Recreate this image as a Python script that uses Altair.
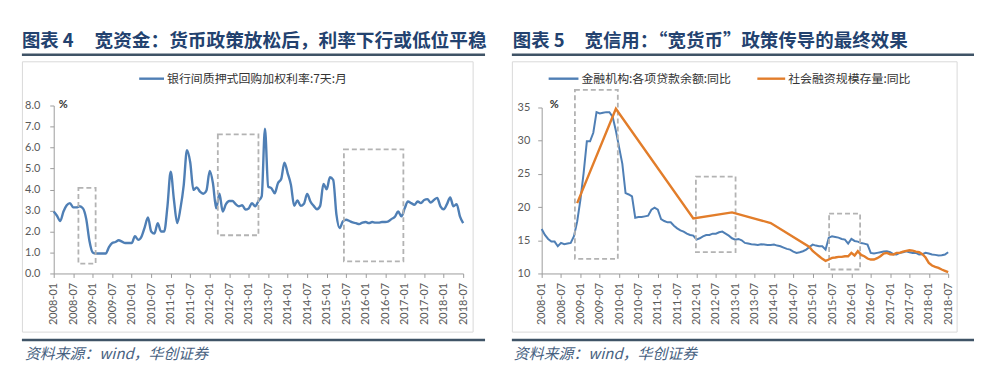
import altair as alt
import pandas as pd

# ---------------- data ----------------
months = list(range(127))  # 0 = 2008-01 ... 126 = 2018-07

repo_rate = [
    2.95, 2.75, 2.5, 2.95, 3.25, 3.35, 3.15, 3.15, 3.2, 3.1, 2.6, 1.55,
    1.0, 0.95, 0.95, 0.95, 0.95, 1.25, 1.45, 1.5, 1.58, 1.52, 1.45, 1.45,
    1.45, 1.78, 1.6, 1.75, 2.2, 2.67, 2.0, 1.9, 2.4, 2.0, 2.0, 3.2,
    4.85, 3.5, 2.4, 3.1, 4.2, 5.87, 5.3, 3.98, 4.1, 3.9, 3.8, 3.95,
    4.88, 4.3, 3.1, 3.8, 2.95, 3.3, 3.45, 3.45, 3.3, 3.2, 3.25, 3.05,
    3.1, 3.35, 3.2, 3.45, 3.67, 6.9, 4.14, 4.06, 3.82, 4.3, 4.5, 5.28,
    4.77, 4.22, 3.22, 3.48, 3.22, 3.32, 3.79, 3.43, 3.22, 3.06, 3.22, 4.27,
    4.01, 4.58, 4.46, 2.8, 2.16, 2.48, 2.56, 2.5, 2.43, 2.4, 2.35, 2.42,
    2.45, 2.4, 2.45, 2.42, 2.42, 2.45, 2.45, 2.48, 2.6, 2.7, 2.95, 2.72,
    3.1, 3.43, 3.35, 3.27, 3.43, 3.35, 3.5, 3.54, 3.38, 3.5, 3.6, 3.2,
    3.06, 3.3, 3.62, 3.2, 3.3, 2.72, 2.4,
]

loan_yoy = [
    16.7, 15.8, 15.2, 14.8, 14.8, 14.1, 14.6, 14.4, 14.5, 14.6, 15.6, 17.8,
    21.1, 25.1, 29.9, 29.9, 31.2, 34.3, 34.1, 34.2, 34.3, 34.3, 33.6, 31.5,
    29.0, 26.5, 22.1, 21.9, 21.6, 18.4, 18.5, 18.5, 18.6, 18.7, 19.6, 19.9,
    19.6, 18.2, 17.9, 17.7, 17.7, 17.2, 16.8, 16.5, 16.3, 16.0, 15.8, 15.7,
    15.1, 15.3, 15.6, 15.8, 15.8, 16.0, 16.0, 16.2, 16.3, 16.0, 15.7, 15.3,
    15.1, 15.2, 15.0, 14.6, 14.5, 14.4, 14.35, 14.3, 14.4, 14.35, 14.3, 14.3,
    14.35, 14.2, 14.1, 13.9, 13.7, 13.6, 13.3, 13.1, 13.2, 13.35, 13.6, 14.0,
    14.35, 14.2, 14.1, 14.1, 13.6, 15.4, 15.6, 15.5, 15.4, 15.2, 15.1, 14.5,
    15.2, 14.9, 14.8, 14.6, 14.5, 14.35, 13.1, 13.0, 13.1, 13.2, 13.3, 13.35,
    13.2, 12.9, 12.85, 13.1, 13.2, 13.35, 13.2, 13.1, 13.1, 12.85, 12.9, 13.1,
    13.0, 12.85, 12.8, 12.7, 12.75, 12.85, 13.2,
]

tsf_months = [11, 23, 47, 59, 71, 83] + list(range(84, 127))
tsf_yoy = [
    20.6, 34.8, 18.3, 19.2, 17.6, 14.0,
    13.4, 13.0, 12.6, 12.2, 11.9, 12.1, 12.35, 12.4, 12.5, 12.5, 12.6, 12.6,
    13.1, 12.7, 13.35, 12.8, 12.6, 12.25, 12.1, 12.1, 12.3, 12.6, 13.0, 13.1,
    12.9, 12.85, 13.1, 13.1, 13.3, 13.4, 13.5, 13.45, 13.3, 13.2, 12.9, 12.4,
    11.6, 11.2, 11.0, 10.85, 10.6, 10.4, 10.2,
]

# dashed highlight boxes (month index / value units)
lbox_x0 = [7.6, 50.5, 89.3]
lbox_x1 = [12.9, 63.0, 107.6]
lbox_y0 = [0.47, 1.82, 0.58]
lbox_y1 = [4.08, 6.63, 5.91]

rbox_x0 = [10.3, 47.8, 89.1]
rbox_x1 = [23.6, 60.1, 98.7]
rbox_y0 = [12.2, 13.2, 10.6]
rbox_y1 = [37.65, 24.6, 19.0]

left_title_no = "图表 4"
left_title = "宽资金：货币政策放松后，利率下行或低位平稳"
right_title_no = "图表 5"
right_title = "宽信用：“宽货币”政策传导的最终效果"
left_legend = "银行间质押式回购加权利率:7天:月"
loan_legend = "金融机构:各项贷款余额:同比"
tsf_legend = "社会融资规模存量:同比"
source = "资料来源：wind，华创证券"

# ---------------- layout helpers ----------------
M = 8  # page margin


def px(v):
    return v - M


df_left = pd.DataFrame({"m": months, "rate": repo_rate})
df_loan = pd.DataFrame({"m": months, "yoy": loan_yoy})
df_tsf = pd.DataFrame({"m": tsf_months, "yoy": tsf_yoy})
df_lbox = pd.DataFrame({"x0": lbox_x0, "x1": lbox_x1, "y0": lbox_y0, "y1": lbox_y1})
df_rbox = pd.DataFrame({"x0": rbox_x0, "x1": rbox_x1, "y0": rbox_y0, "y1": rbox_y1})
one = pd.DataFrame({"k": [0]})

BLUE = "#4f7fb5"
ORANGE = "#e27d2a"
BOX = "#b3b3b3"
TITLE_C = "#23426f"
LINE_C = "#3f5366"
CJK = "Noto Sans CJK SC"

label_expr = "toString(2008 + floor(datum.value / 12)) + (datum.value % 12 == 0 ? '-01' : '-07')"
axis_common = dict(grid=False, domainColor="#9c9c9c", tickColor="#9c9c9c", tickSize=4,
                   labelColor="#595959", labelFont="Lato", labelFontSize=11, title=None)


def x_axis():
    return alt.Axis(values=list(range(0, 127, 6)), labelExpr=label_expr, labelAngle=-90,
                    labelPadding=5, orient="bottom", labelOverlap=False, **axis_common)


def xL():
    return alt.Scale(domain=[0, 126], range=[px(54), px(466)], nice=False, zero=False)


def yL():
    return alt.Scale(domain=[0, 8], range=[px(274), px(105)], nice=False, zero=False)


def xR():
    return alt.Scale(domain=[0, 126], range=[px(545), px(954)], nice=False, zero=False)


def yR():
    return alt.Scale(domain=[10, 35], range=[px(274), px(107)], nice=False, zero=False)


# ---------------- left panel ----------------
left_line = alt.Chart(df_left).mark_line(color=BLUE, strokeWidth=2.4, interpolate="monotone").encode(
    x=alt.X("m:Q", scale=xL(), axis=x_axis()),
    y=alt.Y("rate:Q", scale=yL(),
            axis=alt.Axis(orient="left", offset=-px(54), values=list(range(0, 9)), format=".1f",
                          labelPadding=10, **axis_common)),
)
left_box = alt.Chart(df_lbox).mark_rect(fill="white", fillOpacity=0, stroke=BOX, strokeWidth=1.8,
                                        strokeDash=[5, 3]).encode(
    x=alt.X("x0:Q", scale=xL(), axis=None), x2="x1",
    y=alt.Y("y0:Q", scale=yL(), axis=None), y2="y1",
)

# ---------------- right panel ----------------
loan_line = alt.Chart(df_loan).mark_line(color=BLUE, strokeWidth=2).encode(
    x=alt.X("m:Q", scale=xR(), axis=x_axis()),
    y=alt.Y("yoy:Q", scale=yR(),
            axis=alt.Axis(orient="left", offset=-px(545), values=list(range(10, 36, 5)), format="d",
                          labelPadding=8, **axis_common)),
)
tsf_line = alt.Chart(df_tsf).mark_line(color=ORANGE, strokeWidth=2.4).encode(
    x=alt.X("m:Q", scale=xR(), axis=None),
    y=alt.Y("yoy:Q", scale=yR(), axis=None),
)
right_box = alt.Chart(df_rbox).mark_rect(fill="white", fillOpacity=0, stroke=BOX, strokeWidth=1.8,
                                         strokeDash=[5, 3]).encode(
    x=alt.X("x0:Q", scale=xR(), axis=None), x2="x1",
    y=alt.Y("y0:Q", scale=yR(), axis=None), y2="y1",
)


# ---------------- decorations ----------------
def frame(x0, x1, y0, y1):
    return alt.Chart(one).mark_rect(fill="white", fillOpacity=0, stroke="#d9d9d9", strokeWidth=1).encode(
        x=alt.value(px(x0)), x2=alt.value(px(x1)), y=alt.value(px(y0)), y2=alt.value(px(y1)))


def hline(x0, x1, y, color=LINE_C, w=2.5):
    return alt.Chart(one).mark_rule(color=color, strokeWidth=w).encode(
        x=alt.value(px(x0)), x2=alt.value(px(x1)), y=alt.value(px(y)))


def label(txt, x, y, size=12, color="#333333", weight="normal", style="normal", font=CJK):
    return alt.Chart(one).mark_text(text=txt, align="left", baseline="middle", font=font,
                                    fontSize=size, fontWeight=weight, fontStyle=style,
                                    color=color).encode(x=alt.value(px(x)), y=alt.value(px(y)))


under = [
    frame(22.5, 476, 61, 333),
    frame(515.5, 963, 61, 333),
]
over = [
    label(left_title_no, 22, 40, 18.5, TITLE_C, "bold"),
    label(left_title, 95, 40, 18.8, TITLE_C, "bold"),
    label(right_title_no, 516, 40, 18.5, TITLE_C, "bold"),
    label(right_title, 588, 40, 18.6, TITLE_C, "bold"),
    hline(22, 488, 54),
    hline(515, 980, 54),
    hline(22, 488, 341),
    hline(515, 980, 341),
    label(source, 25, 355, 15, "#47617f", "normal", "italic"),
    label(source, 517, 355, 15, "#47617f", "normal", "italic"),
    hline(140, 165, 78, BLUE, 2.4),
    label(left_legend, 168, 78, 12),
    hline(552, 582, 78, BLUE, 2.4),
    label(loan_legend, 585, 78, 12),
    hline(762, 790, 78, ORANGE, 2.4),
    label(tsf_legend, 793, 78, 12),
    label("%", 59, 104, 11, "#333333", "bold", "normal", "Lato"),
    label("%", 553, 105, 11, "#333333", "bold", "normal", "Lato"),
]

chart = alt.layer(left_line, loan_line, left_box, right_box, tsf_line, *under, *over).resolve_scale(
    x="independent", y="independent"
).resolve_axis(
    x="independent", y="independent"
).properties(
    width=972, height=266,
    autosize=alt.AutoSizeParams(type="none"),
    padding={"left": 0, "top": 0, "right": 0, "bottom": 94},
).configure_view(strokeWidth=0)

chart.save("out.html", embed_options={"renderer": "svg", "actions": False})
